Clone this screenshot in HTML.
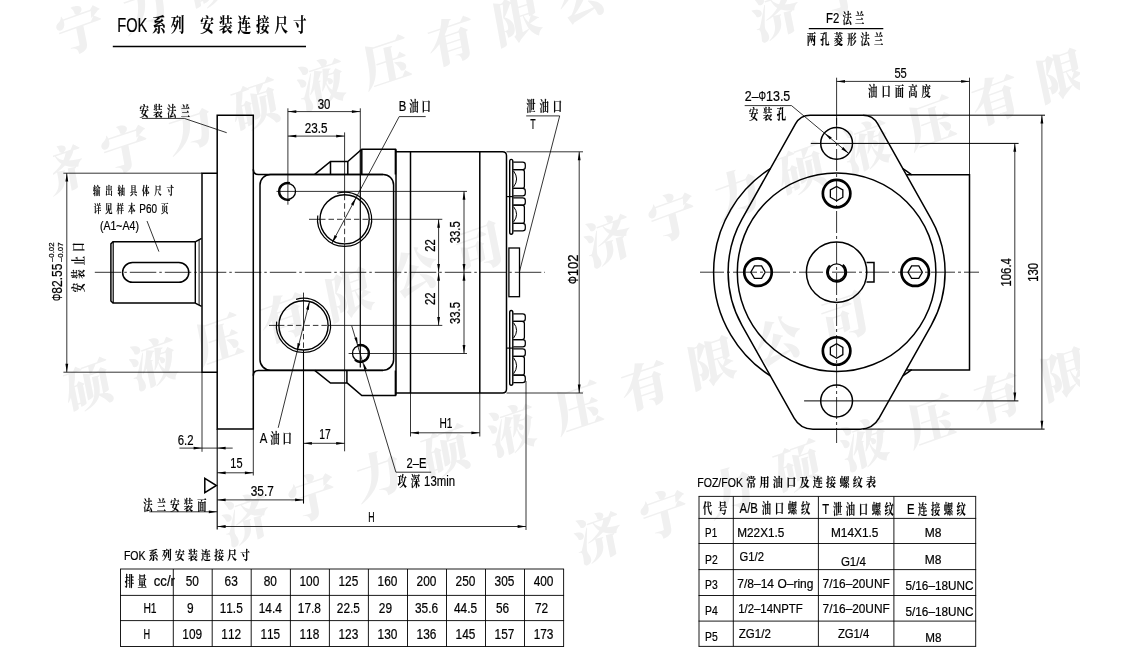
<!DOCTYPE html>
<html lang="zh"><head><meta charset="utf-8"><title>FOK系列 安装连接尺寸</title>
<style>
html,body{margin:0;padding:0;background:#fff;}
body{width:1135px;height:669px;overflow:hidden;}
svg{display:block;filter:grayscale(1);}
svg line,svg path,svg circle,svg rect{fill:none;stroke:#000;stroke-linecap:butt;}
svg .ar{fill:#000;stroke:none;}
svg text{font-family:"Liberation Sans","Noto Serif CJK SC",sans-serif;fill:#000;stroke:none;white-space:pre;}
svg text{stroke:#000;stroke-width:0.22px;}
svg text.c{font-weight:700;stroke-width:0.15px;}
svg .wm text{font-family:"Noto Serif CJK SC","Liberation Serif",serif;font-weight:900;fill:#f0f0f0;stroke:none;}
</style></head><body>
<svg width="1135" height="669" viewBox="0 0 1135 669">
<defs><clipPath id="wc"><rect x="53" y="0" width="1027" height="669"/></clipPath></defs>
<g class="wm" clip-path="url(#wc)">
<text transform="translate(60,171) rotate(-18.3) skewX(-8)" x="-24.5 44.3 113.1 181.9 250.7 319.5 388.3 457.1 525.9 594.7" y="17.64" font-size="49">济宁力硕液压有限公司</text>
<text transform="translate(608,241) rotate(-20) skewX(-8)" x="-24.5 44.3 113.1 181.9 250.7 319.5 388.3 457.1 525.9 594.7" y="17.64" font-size="49">济宁力硕液压有限公司</text>
<text transform="translate(246,520) rotate(-18.6) skewX(-8)" x="-24.5 45.7 115.9 186.1 256.3 326.5 396.7 466.9 537.1 607.3" y="17.64" font-size="49">济宁力硕液压有限公司</text>
<text transform="translate(-107,455.5) rotate(-19.4) skewX(-8)" x="-24.5 44.6 113.7 182.8 251.9 321 390.1 459.2 528.3 597.4" y="17.64" font-size="49">济宁力硕液压有限公司</text>
<text transform="translate(15,53) rotate(-19.5) skewX(-8)" x="-24.5 44.7 113.9 183.1 252.3 321.5 390.7 459.9 529.1 598.3" y="17.64" font-size="49">济宁力硕液压有限公司</text>
<text transform="translate(776,15) rotate(-19.5) skewX(-8)" x="-24.5 44.7 113.9 183.1 252.3 321.5 390.7 459.9 529.1 598.3" y="17.64" font-size="49">济宁力硕液压有限公司</text>
<text transform="translate(598,538) rotate(-19.3) skewX(-8)" x="-24.5 46.1 116.7 187.3 257.9 328.5 399.1 469.7 540.3 610.9" y="17.64" font-size="49">济宁力硕液压有限公司</text>
</g>
<text transform="translate(117.3,32) scale(0.7200,1)" x="0 12.4 28.19" font-size="20.3">FOK</text>
<text class="c" transform="translate(152.24,32) scale(0.7000,1)" x="0 26.49 52.97 68.74 95.22 121.71 148.19 174.68 201.16" font-size="19.49">系列 安装连接尺寸</text>
<line x1="112.8" y1="46.4" x2="306" y2="46.4" stroke-width="1.5"/>
<g id="side">
<path d="M195.4,241.8 L113,241.8 L110.9,243.9 L110.9,301 L113,303.1 L195.4,303.1" stroke-width="1.5"/>
<line x1="113.2" y1="241.8" x2="113.2" y2="303" stroke-width="1.2"/>
<path d="M195.2,241.8 L201.6,238.4 M195.2,303.1 L201.6,306.4" stroke-width="1.5"/>
<line x1="195.3" y1="241.8" x2="195.3" y2="303" stroke-width="1.4"/>
<line x1="199.1" y1="239.8" x2="199.1" y2="305" stroke-width="0.9"/>
<rect x="122.6" y="262.5" width="66.2" height="19.8" stroke-width="1.5" rx="9.9"/>
<path d="M217.2,173.2 L202,173.2 L202,372.2 L217.2,372.2" stroke-width="1.5"/>
<path d="M217.2,429.1 L217.2,115.2 L253.3,115.2 L253.3,429.1 Z" stroke-width="1.5"/>
<path d="M253.3,169.2 Q253.3,174.4 258.4,174.4 L383,174.4 M253.3,375.7 Q253.3,370.4 258.4,370.4 L383,370.4" stroke-width="1.5"/>
<rect x="260" y="174.4" width="133.6" height="195.8" stroke-width="1.5" rx="10.5"/>
<path d="M314.7,174.4 L330.5,161.5 L347.8,161.5 L361.8,149.2 L395.4,149.2 L395.4,174.4 M330.5,161.5 V174.4 M347.8,161.5 V174.4 M361.8,149.2 V174.4" stroke-width="1.5"/>
<path d="M314.7,370.4 L330.5,383.1 L347.3,383.1 L361.8,395.6 L395.4,395.6 L395.4,370.4 M346.9,383.1 V370.4" stroke-width="1.5"/>
<path d="M395.4,151.8 L502.5,151.8 Q506.5,151.8 506.5,155.8 L506.5,389 Q506.5,393 502.5,393 L395.4,393" stroke-width="1.5"/>
<line x1="396" y1="149.2" x2="396" y2="395.6" stroke-width="1.5"/>
<line x1="410.5" y1="151.8" x2="410.5" y2="393" stroke-width="1.5"/>
<line x1="479.8" y1="151.8" x2="479.8" y2="393" stroke-width="1.5"/>
<path d="M509.7,161.4 Q509.7,159.4 511.2,159.4 Q512.8,159.4 512.8,161.4 L512.8,232.2 Q512.8,234.2 511.2,234.2 Q509.7,234.2 509.7,232.2 Z" stroke-width="1.4"/>
<line x1="506.5" y1="196.6" x2="513.3" y2="196.6" stroke-width="1.2"/>
<path d="M513.3,162.1 L522.7,162.1 Q525.3,162.1 525.3,164.7 L525.3,166.9 Q525.3,169.5 522.7,169.5 L513.3,169.5" stroke-width="1.25"/>
<path d="M513.3,169.5 L522.2,169.5 Q524.4,169.5 524.4,171.7 L524.4,186.2 Q524.4,188.4 522.2,188.4 L513.3,188.4" stroke-width="1.25"/>
<path d="M513.3,188.4 L522.7,188.4 Q525.3,188.4 525.3,191 L525.3,193.2 Q525.3,195.8 522.7,195.8 L513.3,195.8" stroke-width="1.25"/>
<path d="M513.6,171 Q519.6,178.95 513.6,186.9" stroke-width="1"/>
<path d="M513.3,197.8 L522.7,197.8 Q525.3,197.8 525.3,200.4 L525.3,202.6 Q525.3,205.2 522.7,205.2 L513.3,205.2" stroke-width="1.25"/>
<path d="M513.3,205.2 L522.2,205.2 Q524.4,205.2 524.4,207.4 L524.4,221.2 Q524.4,223.4 522.2,223.4 L513.3,223.4" stroke-width="1.25"/>
<path d="M513.3,223.4 L522.7,223.4 Q525.3,223.4 525.3,226 L525.3,228.2 Q525.3,230.8 522.7,230.8 L513.3,230.8" stroke-width="1.25"/>
<path d="M513.6,206.7 Q519.6,214.3 513.6,221.9" stroke-width="1"/>
<path d="M509.7,312.5 Q509.7,310.5 511.2,310.5 Q512.8,310.5 512.8,312.5 L512.8,383.3 Q512.8,385.3 511.2,385.3 Q509.7,385.3 509.7,383.3 Z" stroke-width="1.4"/>
<line x1="506.5" y1="348.1" x2="513.3" y2="348.1" stroke-width="1.2"/>
<path d="M513.3,348.9 L522.7,348.9 Q525.3,348.9 525.3,351.5 L525.3,353.7 Q525.3,356.3 522.7,356.3 L513.3,356.3" stroke-width="1.25"/>
<path d="M513.3,356.3 L522.2,356.3 Q524.4,356.3 524.4,358.5 L524.4,373 Q524.4,375.2 522.2,375.2 L513.3,375.2" stroke-width="1.25"/>
<path d="M513.3,375.2 L522.7,375.2 Q525.3,375.2 525.3,377.8 L525.3,380 Q525.3,382.6 522.7,382.6 L513.3,382.6" stroke-width="1.25"/>
<path d="M513.6,357.8 Q519.6,365.75 513.6,373.7" stroke-width="1"/>
<path d="M513.3,313.9 L522.7,313.9 Q525.3,313.9 525.3,316.5 L525.3,318.7 Q525.3,321.3 522.7,321.3 L513.3,321.3" stroke-width="1.25"/>
<path d="M513.3,321.3 L522.2,321.3 Q524.4,321.3 524.4,323.5 L524.4,337.3 Q524.4,339.5 522.2,339.5 L513.3,339.5" stroke-width="1.25"/>
<path d="M513.3,339.5 L522.7,339.5 Q525.3,339.5 525.3,342.1 L525.3,344.3 Q525.3,346.9 522.7,346.9 L513.3,346.9" stroke-width="1.25"/>
<path d="M513.6,322.8 Q519.6,330.4 513.6,338" stroke-width="1"/>
<rect x="508.9" y="248" width="10.6" height="48.7" stroke-width="1.3"/>
</g>
<circle cx="287.6" cy="191.4" r="7.9" stroke-width="1.3"/>
<path d="M289.88,199.9 A8.8,8.8 0 1 1 289.88,182.9" stroke-width="1.7"/>
<circle cx="360.4" cy="353.4" r="7.9" stroke-width="1.3"/>
<path d="M357.39,345.13 A8.8,8.8 0 1 1 354.74,360.14" stroke-width="1.7"/>
<circle cx="344.6" cy="219.3" r="24.6" stroke-width="1.4"/>
<path d="M337.13,193.25 A27.1,27.1 0 1 1 317.76,215.53" stroke-width="1.2"/>
<circle cx="303.5" cy="325.4" r="24.6" stroke-width="1.4"/>
<path d="M296.03,299.35 A27.1,27.1 0 1 1 276.66,321.63" stroke-width="1.2"/>
<line x1="94.8" y1="272.3" x2="545" y2="272.3" stroke-width="0.8" stroke-dasharray="26.5 3 2.5 3"/>
<line x1="287.9" y1="108.3" x2="287.9" y2="204.7" stroke-width="0.8"/>
<line x1="360.3" y1="108.3" x2="360.3" y2="149.2" stroke-width="0.8"/>
<line x1="360.3" y1="149.2" x2="360.3" y2="367.6" stroke-width="1.2" stroke="#555"/>
<line x1="344.6" y1="132.4" x2="344.6" y2="194.7" stroke-width="0.8"/>
<line x1="344.6" y1="194.7" x2="344.6" y2="243.9" stroke-width="0.8" stroke-dasharray="5.5 3"/>
<line x1="344.6" y1="243.9" x2="344.6" y2="451.3" stroke-width="0.8"/>
<line x1="303.5" y1="292.6" x2="303.5" y2="325.4" stroke-width="0.8"/>
<line x1="303.5" y1="325.4" x2="303.5" y2="350" stroke-width="0.8" stroke-dasharray="5.5 3"/>
<line x1="303.5" y1="350" x2="303.5" y2="503.6" stroke-width="1.1"/>
<line x1="276.5" y1="191.4" x2="467" y2="191.4" stroke-width="0.8"/>
<line x1="309" y1="219.3" x2="320" y2="219.3" stroke-width="0.8"/>
<line x1="320" y1="219.3" x2="369.2" y2="219.3" stroke-width="0.8" stroke-dasharray="5.5 3"/>
<line x1="369.2" y1="219.3" x2="442.3" y2="219.3" stroke-width="0.8"/>
<line x1="269" y1="325.4" x2="278.9" y2="325.4" stroke-width="0.8"/>
<line x1="278.9" y1="325.4" x2="328.1" y2="325.4" stroke-width="0.8" stroke-dasharray="5.5 3"/>
<line x1="328.1" y1="325.4" x2="442.3" y2="325.4" stroke-width="0.8"/>
<line x1="348.6" y1="353.5" x2="467" y2="353.5" stroke-width="0.8"/>
<line x1="287.9" y1="111.6" x2="360.3" y2="111.6" stroke-width="0.8"/>
<polygon class="ar" points="287.9,111.6 296.3,110.2 296.3,113"/>
<polygon class="ar" points="360.3,111.6 351.9,113 351.9,110.2"/>
<text transform="translate(317.7,108.6) scale(0.8155,1)" x="0 7.79" font-size="14">30</text>
<line x1="287.9" y1="136.1" x2="344.6" y2="136.1" stroke-width="0.8"/>
<polygon class="ar" points="287.9,136.1 296.3,134.7 296.3,137.5"/>
<polygon class="ar" points="344.6,136.1 336.2,137.5 336.2,134.7"/>
<text transform="translate(304.8,132.6) scale(0.8368,1)" x="0 7.79 15.57 19.46" font-size="14">23.5</text>
<line x1="438.6" y1="219.3" x2="438.6" y2="272.3" stroke-width="0.8"/>
<polygon class="ar" points="438.6,219.3 440,227.7 437.2,227.7"/>
<polygon class="ar" points="438.6,272.3 437.2,263.9 440,263.9"/>
<line x1="438.6" y1="272.3" x2="438.6" y2="325.4" stroke-width="0.8"/>
<polygon class="ar" points="438.6,272.3 440,280.7 437.2,280.7"/>
<polygon class="ar" points="438.6,325.4 437.2,317 440,317"/>
<line x1="464" y1="191.4" x2="464" y2="272.3" stroke-width="0.8"/>
<polygon class="ar" points="464,191.4 465.4,199.8 462.6,199.8"/>
<polygon class="ar" points="464,272.3 462.6,263.9 465.4,263.9"/>
<line x1="464" y1="272.3" x2="464" y2="353.5" stroke-width="0.8"/>
<polygon class="ar" points="464,272.3 465.4,280.7 462.6,280.7"/>
<polygon class="ar" points="464,353.5 462.6,345.1 465.4,345.1"/>
<text transform="translate(434.6,251.7) rotate(-90) scale(0.8100,1)" x="0 7.79" font-size="14">22</text>
<text transform="translate(434.6,305) rotate(-90) scale(0.8100,1)" x="0 7.79" font-size="14">22</text>
<text transform="translate(460,243.3) rotate(-90) scale(0.8100,1)" x="0 7.79 15.57 19.46" font-size="14">33.5</text>
<text transform="translate(460,324.1) rotate(-90) scale(0.8100,1)" x="0 7.79 15.57 19.46" font-size="14">33.5</text>
<line x1="506.5" y1="151.8" x2="583" y2="151.8" stroke-width="0.8"/>
<line x1="506.5" y1="393" x2="583" y2="393" stroke-width="0.8"/>
<line x1="579.2" y1="151.8" x2="579.2" y2="393" stroke-width="0.8"/>
<polygon class="ar" points="579.2,151.8 580.6,160.2 577.8,160.2"/>
<polygon class="ar" points="579.2,393 577.8,384.6 580.6,384.6"/>
<text transform="translate(577.6,283.9) rotate(-90) scale(0.6938,1)" x="0" font-size="14">Φ</text>
<text transform="translate(577.6,283.9) rotate(-90) translate(7.75,0) scale(0.9226,1)" x="0 7.79 15.57" font-size="14">102</text>
<line x1="63.4" y1="173.2" x2="202" y2="173.2" stroke-width="0.8"/>
<line x1="63.4" y1="372.2" x2="202" y2="372.2" stroke-width="0.8"/>
<line x1="66.8" y1="173.2" x2="66.8" y2="372.2" stroke-width="0.8"/>
<polygon class="ar" points="66.8,173.2 68.2,181.6 65.4,181.6"/>
<polygon class="ar" points="66.8,372.2 65.4,363.8 68.2,363.8"/>
<text transform="translate(61.8,301.1) rotate(-90) scale(0.6510,1)" x="0" font-size="14">Φ</text>
<text transform="translate(61.8,301.1) rotate(-90) translate(7.27,0) scale(0.8657,1)" x="0 7.79 15.57 19.46 27.25" font-size="14">82.55</text>
<text transform="translate(53.7,262) rotate(-90) scale(1.1189,1)" x="0 3.89 7.79 9.73 13.62" font-size="7">–0.02</text>
<text transform="translate(63.3,262) rotate(-90) scale(1.1189,1)" x="0 3.89 7.79 9.73 13.62" font-size="7">–0.07</text>
<text class="c" transform="translate(82.6,292.3) rotate(-90) scale(0.6900,1)" x="0 19.58 39.16 58.73" font-size="13.44">安装止口</text>
<line x1="410.5" y1="393" x2="410.5" y2="436.5" stroke-width="0.8"/>
<line x1="479.8" y1="393" x2="479.8" y2="436.5" stroke-width="0.8"/>
<line x1="410.5" y1="432.8" x2="479.8" y2="432.8" stroke-width="0.8"/>
<polygon class="ar" points="410.5,432.8 418.9,431.4 418.9,434.2"/>
<polygon class="ar" points="479.8,432.8 471.4,434.2 471.4,431.4"/>
<text transform="translate(439.5,428.4) scale(0.7264,1)" x="0 10.11" font-size="14">H1</text>
<line x1="303.5" y1="443.3" x2="344.6" y2="443.3" stroke-width="0.8"/>
<polygon class="ar" points="303.5,443.3 311.9,441.9 311.9,444.7"/>
<polygon class="ar" points="344.6,443.3 336.2,444.7 336.2,441.9"/>
<text transform="translate(319.3,439.2) scale(0.7385,1)" x="0 7.79" font-size="14">17</text>
<line x1="202" y1="372.2" x2="202" y2="451.8" stroke-width="0.8"/>
<line x1="179.4" y1="448.1" x2="232.7" y2="448.1" stroke-width="0.8"/>
<polygon class="ar" points="202,448.1 193.6,449.5 193.6,446.7"/>
<polygon class="ar" points="217.2,448.1 225.6,446.7 225.6,449.5"/>
<text transform="translate(177.8,444.9) scale(0.8118,1)" x="0 7.79 11.68" font-size="14">6.2</text>
<line x1="217.2" y1="429.1" x2="217.2" y2="529.5" stroke-width="1.1"/>
<line x1="253.3" y1="429.1" x2="253.3" y2="475.5" stroke-width="0.8"/>
<line x1="217.2" y1="472.8" x2="253.3" y2="472.8" stroke-width="0.8"/>
<polygon class="ar" points="217.2,472.8 225.6,471.4 225.6,474.2"/>
<polygon class="ar" points="253.3,472.8 244.9,474.2 244.9,471.4"/>
<text transform="translate(230.3,467.9) scale(0.7834,1)" x="0 7.79" font-size="14">15</text>
<line x1="217.2" y1="499.9" x2="303.5" y2="499.9" stroke-width="0.8"/>
<polygon class="ar" points="217.2,499.9 225.6,498.5 225.6,501.3"/>
<polygon class="ar" points="303.5,499.9 295.1,501.3 295.1,498.5"/>
<text transform="translate(250.8,495.8) scale(0.8441,1)" x="0 7.79 15.57 19.46" font-size="14">35.7</text>
<line x1="526" y1="381" x2="526" y2="530" stroke-width="0.8"/>
<line x1="217.2" y1="526.5" x2="526" y2="526.5" stroke-width="0.8"/>
<polygon class="ar" points="217.2,526.5 225.6,525.1 225.6,527.9"/>
<polygon class="ar" points="526,526.5 517.6,527.9 517.6,525.1"/>
<text transform="translate(368.3,521.9) scale(0.6231,1)" x="0" font-size="14">H</text>
<path d="M204.8,478.4 L204.8,492.6 L216.4,485.5 Z" stroke-width="1.5"/>
<text class="c" transform="translate(143.2,509.6) scale(0.6900,1)" x="0 19.61 39.22 58.83 78.44" font-size="13.44">法兰安装面</text>
<line x1="149.3" y1="511.8" x2="217.2" y2="511.8" stroke-width="0.8"/>
<polygon class="ar" points="217.2,511.8 208.8,513.2 208.8,510.4"/>
<text class="c" transform="translate(139.4,115.6) scale(0.6900,1)" x="0 19.96 39.93 59.89" font-size="13.44">安装法兰</text>
<path d="M141.9,118.4 L184.3,118.4 L226.7,132.7" stroke-width="0.8"/>
<text class="c" transform="translate(92.9,195.3) scale(0.6300,1)" x="0 19.46 38.92 58.38 77.84 97.3 116.76" font-size="11.81">输出轴具体尺寸</text>
<text class="c" transform="translate(93.7,213.3) scale(0.6300,1)" x="0 18.12 36.24 54.35" font-size="11.81">详见样本</text>
<text transform="translate(139.36,213.3) scale(0.8100,1)" x="0 8.2 15.04" font-size="12.3">P60</text>
<text class="c" transform="translate(161.06,213.3) scale(0.6300,1)" x="0" font-size="11.81">页</text>
<text transform="translate(99.9,229.7) scale(0.8578,1)" x="0 4.1 12.3 19.14 26.32 34.53 41.37" font-size="12.3">(A1~A4)</text>
<line x1="147" y1="221" x2="158.9" y2="251.6" stroke-width="0.8"/>
<text transform="translate(398.8,110.9) scale(0.8100,1)" x="0" font-size="14">B</text>
<text class="c" transform="translate(409.31,110.9) scale(0.6900,1)" x="0 17.71" font-size="13.44">油口</text>
<path d="M425.7,116.6 L399.2,116.6 L331.94,243.14" stroke-width="0.8"/>
<polygon class="ar" points="356.14,197.58 353.43,205.65 350.96,204.34"/>
<polygon class="ar" points="331.94,243.14 334.64,235.07 337.11,236.38"/>
<text transform="translate(259.7,443.2) scale(0.8100,1)" x="0" font-size="14">A</text>
<text class="c" transform="translate(270.26,443.2) scale(0.6900,1)" x="0 17.78" font-size="13.44">油口</text>
<line x1="278.2" y1="427.8" x2="309.53" y2="301.56" stroke-width="0.8"/>
<polygon class="ar" points="309.53,301.56 308.83,310.05 306.11,309.36"/>
<polygon class="ar" points="296.88,351.56 297.59,343.08 300.3,343.76"/>
<text class="c" transform="translate(526.2,111.2) scale(0.6900,1)" x="0 19.29 38.59" font-size="13.44">泄油口</text>
<path d="M526.2,115.9 L559.7,115.9 L519.5,271.5" stroke-width="0.8"/>
<text transform="translate(530.2,129.4) scale(0.6314,1)" x="0" font-size="14">T</text>
<text transform="translate(406.5,467.8) scale(0.7989,1)" x="0 7.79 15.57" font-size="14">2–E</text>
<path d="M431.2,472.2 L395.9,472.2 L351.7,325.8" stroke-width="0.8"/>
<polygon class="ar" points="363.44,362.67 366.85,368.94 364.18,369.77"/>
<polygon class="ar" points="357.76,344.33 354.35,338.06 357.02,337.23"/>
<text class="c" transform="translate(397.4,485.8) scale(0.6900,1)" x="0 19.36" font-size="13.44">攻深</text>
<text transform="translate(424.11,485.8) scale(0.8100,1)" x="0 7.79 15.57 27.23 30.34" font-size="14">13min</text>
<path d="M810.2,115.2 L863,115.2 A16.9,16.9 0 0 1 877.74,123.83 L931.21,219.09 A108.5,108.5 0 0 1 931.21,325.31 L879.06,418.22 A21.51,21.51 0 0 1 860.3,429.2 L812.9,429.2 A21.51,21.51 0 0 1 794.14,418.22 L741.99,325.31 A108.5,108.5 0 0 1 741.99,219.09 L795.46,123.83 A16.9,16.9 0 0 1 810.2,115.2 Z" stroke-width="1.5"/>
<circle cx="836.6" cy="272.2" r="99.3" stroke-width="1.5"/>
<path d="M770.35,168.57 A123,123 0 0 0 770.35,375.83" stroke-width="1.5"/>
<path d="M902.85,168.57 A123,123 0 0 1 911.71,174.8" stroke-width="1.5"/>
<path d="M902.85,375.83 A123,123 0 0 0 911.71,369.6" stroke-width="1.5"/>
<path d="M906.35,174.8 L969.5,174.8 L969.5,370 L906.35,370" stroke-width="1.5"/>
<circle cx="836.6" cy="143.3" r="15.9" stroke-width="1.5"/>
<circle cx="836.6" cy="401" r="15.9" stroke-width="1.5"/>
<circle cx="836.6" cy="193.6" r="13.75" stroke-width="2.7"/>
<path d="M842.84,197.2 L836.6,200.8 L830.36,197.2 L830.36,190 L836.6,186.4 L842.84,190 Z" stroke-width="1.3"/>
<circle cx="836.6" cy="351" r="13.75" stroke-width="2.7"/>
<path d="M842.84,354.6 L836.6,358.2 L830.36,354.6 L830.36,347.4 L836.6,343.8 L842.84,347.4 Z" stroke-width="1.3"/>
<circle cx="758" cy="272.2" r="13.75" stroke-width="2.7"/>
<path d="M765.2,272.2 L761.6,278.44 L754.4,278.44 L750.8,272.2 L754.4,265.96 L761.6,265.96 Z" stroke-width="1.3"/>
<circle cx="915.2" cy="272.2" r="13.75" stroke-width="2.7"/>
<path d="M922.4,272.2 L918.8,278.44 L911.6,278.44 L908,272.2 L911.6,265.96 L918.8,265.96 Z" stroke-width="1.3"/>
<circle cx="836.6" cy="272.2" r="30.2" stroke-width="1.5"/>
<circle cx="836.6" cy="272.2" r="8.3" stroke-width="1.3"/>
<path d="M842.77,264.85 A9.6,9.6 0 1 1 829.81,265.41" stroke-width="1.9"/>
<path d="M866.5,262.5 L874,262.5 L874,282.1 L866.5,282.1" stroke-width="1.5"/>
<line x1="836.6" y1="77.7" x2="836.6" y2="125" stroke-width="0.8"/>
<line x1="836.6" y1="118" x2="836.6" y2="443" stroke-width="0.8" stroke-dasharray="22 3 3 3"/>
<line x1="700" y1="272.2" x2="979" y2="272.2" stroke-width="0.8" stroke-dasharray="24 3 3 3"/>
<line x1="969.5" y1="77.7" x2="969.5" y2="174.8" stroke-width="0.8"/>
<line x1="836.6" y1="81.4" x2="969.5" y2="81.4" stroke-width="0.8"/>
<polygon class="ar" points="836.6,81.4 845,80 845,82.8"/>
<polygon class="ar" points="969.5,81.4 961.1,82.8 961.1,80"/>
<text transform="translate(894.4,77.7) scale(0.7963,1)" x="0 7.79" font-size="14">55</text>
<text class="c" transform="translate(868,95.6) scale(0.6900,1)" x="0 19.43 38.86 58.29 77.72" font-size="13.44">油口面高度</text>
<line x1="810.8" y1="143.4" x2="1018.6" y2="143.4" stroke-width="1" stroke="#666"/>
<line x1="804.1" y1="400.9" x2="1018.4" y2="400.9" stroke-width="1" stroke="#666"/>
<line x1="863" y1="115.2" x2="1045" y2="115.2" stroke-width="1" stroke="#555"/>
<line x1="863" y1="429.1" x2="1044.6" y2="429.1" stroke-width="1" stroke="#555"/>
<line x1="1014.8" y1="143.4" x2="1014.8" y2="400.9" stroke-width="0.8"/>
<polygon class="ar" points="1014.8,143.4 1016.2,151.8 1013.4,151.8"/>
<polygon class="ar" points="1014.8,400.9 1013.4,392.5 1016.2,392.5"/>
<line x1="1041.9" y1="115.2" x2="1041.9" y2="429.1" stroke-width="0.8"/>
<polygon class="ar" points="1041.9,115.2 1043.3,123.6 1040.5,123.6"/>
<polygon class="ar" points="1041.9,429.1 1040.5,420.7 1043.3,420.7"/>
<text transform="translate(1010.8,286.5) rotate(-90) scale(0.8100,1)" x="0 7.79 15.57 23.36 27.25" font-size="14">106.4</text>
<text transform="translate(1038,281.8) rotate(-90) scale(0.8100,1)" x="0 7.79 15.57" font-size="14">130</text>
<text transform="translate(744.7,101.1) scale(0.8903,1)" x="0 7.79" font-size="14">2–</text>
<text transform="translate(758.56,101.1) scale(0.6695,1)" x="0" font-size="14">Φ</text>
<text transform="translate(766.04,101.1) scale(0.8903,1)" x="0 7.79 15.57 19.46" font-size="14">13.5</text>
<text class="c" transform="translate(749.1,119.4) scale(0.6900,1)" x="0 20.09 40.18" font-size="13.44">安装孔</text>
<path d="M744.7,105.6 L791.5,105.6 L848.8,153.49" stroke-width="0.8"/>
<polygon class="ar" points="848.8,153.49 841.45,149.18 843.25,147.03"/>
<polygon class="ar" points="824.4,133.11 831.75,137.42 829.95,139.57"/>
<text transform="translate(826,22.7) scale(0.8100,1)" x="0 8.55" font-size="14">F2</text>
<text class="c" transform="translate(842.49,22.7) scale(0.6900,1)" x="0 18.16" font-size="13.44">法兰</text>
<line x1="808.8" y1="28.6" x2="883.3" y2="28.6" stroke-width="1.4"/>
<text class="c" transform="translate(806.8,43.8) scale(0.6900,1)" x="0 19.49 38.97 58.46 77.94 97.43" font-size="13.44">两孔菱形法兰</text>
<text transform="translate(123.9,559.8) scale(0.8100,1)" x="0 7.94 18.05" font-size="13">FOK</text>
<text class="c" transform="translate(148.87,559.8) scale(0.7800,1)" x="0 16.74 33.48 50.22 66.96 83.7 100.44 117.18" font-size="12.48">系列安装连接尺寸</text>
<line x1="120.5" y1="569" x2="120.5" y2="646.5" stroke-width="0.9"/>
<line x1="173.3" y1="569" x2="173.3" y2="646.5" stroke-width="0.9"/>
<line x1="212.2" y1="569" x2="212.2" y2="646.5" stroke-width="0.9"/>
<line x1="251.2" y1="569" x2="251.2" y2="646.5" stroke-width="0.9"/>
<line x1="290.4" y1="569" x2="290.4" y2="646.5" stroke-width="0.9"/>
<line x1="329.4" y1="569" x2="329.4" y2="646.5" stroke-width="0.9"/>
<line x1="368.4" y1="569" x2="368.4" y2="646.5" stroke-width="0.9"/>
<line x1="407.5" y1="569" x2="407.5" y2="646.5" stroke-width="0.9"/>
<line x1="446.5" y1="569" x2="446.5" y2="646.5" stroke-width="0.9"/>
<line x1="485.5" y1="569" x2="485.5" y2="646.5" stroke-width="0.9"/>
<line x1="524.5" y1="569" x2="524.5" y2="646.5" stroke-width="0.9"/>
<line x1="563.6" y1="569" x2="563.6" y2="646.5" stroke-width="0.9"/>
<line x1="120.05" y1="569" x2="564.05" y2="569" stroke-width="0.9"/>
<line x1="120.05" y1="595.4" x2="564.05" y2="595.4" stroke-width="0.9"/>
<line x1="120.05" y1="620.6" x2="564.05" y2="620.6" stroke-width="0.9"/>
<line x1="120.05" y1="646.5" x2="564.05" y2="646.5" stroke-width="0.9"/>
<text class="c" transform="translate(124.7,586.1) scale(0.6900,1)" x="0 18.73" font-size="13.44">排量</text>
<text transform="translate(153.8,586.3) scale(0.9401,1)" x="0 7 14 17.89" font-size="14">cc/r</text>
<text transform="translate(143.4,612.7) scale(0.7376,1)" x="0 10.11" font-size="14">H1</text>
<text transform="translate(143.6,639.1) scale(0.6528,1)" x="0" font-size="14">H</text>
<text transform="translate(185.64,586.3) scale(0.8486,1)" x="0 7.79" font-size="14">50</text>
<text transform="translate(224.59,586.3) scale(0.8486,1)" x="0 7.79" font-size="14">63</text>
<text transform="translate(263.69,586.3) scale(0.8486,1)" x="0 7.79" font-size="14">80</text>
<text transform="translate(299.49,586.3) scale(0.8486,1)" x="0 7.79 15.57" font-size="14">100</text>
<text transform="translate(338.49,586.3) scale(0.8486,1)" x="0 7.79 15.57" font-size="14">125</text>
<text transform="translate(377.54,586.3) scale(0.8486,1)" x="0 7.79 15.57" font-size="14">160</text>
<text transform="translate(416.59,586.3) scale(0.8486,1)" x="0 7.79 15.57" font-size="14">200</text>
<text transform="translate(455.59,586.3) scale(0.8486,1)" x="0 7.79 15.57" font-size="14">250</text>
<text transform="translate(494.59,586.3) scale(0.8486,1)" x="0 7.79 15.57" font-size="14">305</text>
<text transform="translate(533.64,586.3) scale(0.8486,1)" x="0 7.79 15.57" font-size="14">400</text>
<text transform="translate(186.95,612.7) scale(0.8486,1)" x="0" font-size="14">9</text>
<text transform="translate(219.64,612.7) scale(0.8486,1)" x="0 7.79 15.57 19.46" font-size="14">11.5</text>
<text transform="translate(258.74,612.7) scale(0.8486,1)" x="0 7.79 15.57 19.46" font-size="14">14.4</text>
<text transform="translate(297.84,612.7) scale(0.8486,1)" x="0 7.79 15.57 19.46" font-size="14">17.8</text>
<text transform="translate(336.84,612.7) scale(0.8486,1)" x="0 7.79 15.57 19.46" font-size="14">22.5</text>
<text transform="translate(378.84,612.7) scale(0.8486,1)" x="0 7.79" font-size="14">29</text>
<text transform="translate(414.94,612.7) scale(0.8486,1)" x="0 7.79 15.57 19.46" font-size="14">35.6</text>
<text transform="translate(453.94,612.7) scale(0.8486,1)" x="0 7.79 15.57 19.46" font-size="14">44.5</text>
<text transform="translate(495.89,612.7) scale(0.8486,1)" x="0 7.79" font-size="14">56</text>
<text transform="translate(534.94,612.7) scale(0.8486,1)" x="0 7.79" font-size="14">72</text>
<text transform="translate(182.34,639.1) scale(0.8486,1)" x="0 7.79 15.57" font-size="14">109</text>
<text transform="translate(221.29,639.1) scale(0.8486,1)" x="0 7.79 15.57" font-size="14">112</text>
<text transform="translate(260.39,639.1) scale(0.8486,1)" x="0 7.79 15.57" font-size="14">115</text>
<text transform="translate(299.49,639.1) scale(0.8486,1)" x="0 7.79 15.57" font-size="14">118</text>
<text transform="translate(338.49,639.1) scale(0.8486,1)" x="0 7.79 15.57" font-size="14">123</text>
<text transform="translate(377.54,639.1) scale(0.8486,1)" x="0 7.79 15.57" font-size="14">130</text>
<text transform="translate(416.59,639.1) scale(0.8486,1)" x="0 7.79 15.57" font-size="14">136</text>
<text transform="translate(455.59,639.1) scale(0.8486,1)" x="0 7.79 15.57" font-size="14">145</text>
<text transform="translate(494.59,639.1) scale(0.8486,1)" x="0 7.79 15.57" font-size="14">157</text>
<text transform="translate(533.64,639.1) scale(0.8486,1)" x="0 7.79 15.57" font-size="14">173</text>
<text transform="translate(697.3,486.5) scale(0.8100,1)" x="0 7.94 18.05 25.99 29.61 37.55 47.66" font-size="13">FOZ/FOK</text>
<text class="c" transform="translate(746.25,486.5) scale(0.8000,1)" x="0 16.63 33.27 49.9 66.54 83.17 99.81 116.44 133.07 149.71" font-size="12.48">常用油口及连接螺纹表</text>
<line x1="699" y1="496.4" x2="699" y2="646.4" stroke-width="0.9"/>
<line x1="733.3" y1="496.4" x2="733.3" y2="646.4" stroke-width="0.9"/>
<line x1="818.4" y1="496.4" x2="818.4" y2="646.4" stroke-width="0.9"/>
<line x1="893.9" y1="496.4" x2="893.9" y2="646.4" stroke-width="0.9"/>
<line x1="975.7" y1="496.4" x2="975.7" y2="646.4" stroke-width="0.9"/>
<line x1="698.55" y1="496.4" x2="976.15" y2="496.4" stroke-width="0.9"/>
<line x1="698.55" y1="518.4" x2="976.15" y2="518.4" stroke-width="0.9"/>
<line x1="698.55" y1="543.5" x2="976.15" y2="543.5" stroke-width="0.9"/>
<line x1="698.55" y1="569.6" x2="976.15" y2="569.6" stroke-width="0.9"/>
<line x1="698.55" y1="595.5" x2="976.15" y2="595.5" stroke-width="0.9"/>
<line x1="698.55" y1="621.1" x2="976.15" y2="621.1" stroke-width="0.9"/>
<line x1="698.55" y1="646.4" x2="976.15" y2="646.4" stroke-width="0.9"/>
<text class="c" transform="translate(702.8,513.2) scale(0.6900,1)" x="0 21.92" font-size="13.44">代号</text>
<text transform="translate(739.6,513.4) scale(0.8100,1)" x="0 9.34 13.23" font-size="14">A/B</text>
<text class="c" transform="translate(761.68,513.4) scale(0.6900,1)" x="0 18.96 37.91 56.87" font-size="13.44">油口螺纹</text>
<text transform="translate(822.3,514.2) scale(0.8100,1)" x="0" font-size="14">T</text>
<text class="c" transform="translate(832.89,514.2) scale(0.6900,1)" x="0 18.75 37.49 56.24 74.98" font-size="13.44">泄油口螺纹</text>
<text transform="translate(907,513.8) scale(0.8100,1)" x="0" font-size="14">E</text>
<text class="c" transform="translate(918.12,513.8) scale(0.6900,1)" x="0 18.6 37.2 55.8" font-size="13.44">连接螺纹</text>
<text transform="translate(705.1,536.5) scale(0.7432,1)" x="0 8.8" font-size="13.2">P1</text>
<text transform="translate(737.3,536.5) scale(0.8896,1)" x="0 11 18.34 25.68 34.48 41.82 45.49" font-size="13.2">M22X1.5</text>
<text transform="translate(830.9,536.5) scale(0.8991,1)" x="0 11 18.34 25.68 34.48 41.82 45.49" font-size="13.2">M14X1.5</text>
<text transform="translate(924.8,536.5) scale(0.9107,1)" x="0 11" font-size="13.2">M8</text>
<text transform="translate(705.1,564) scale(0.7866,1)" x="0 8.8" font-size="13.2">P2</text>
<text transform="translate(739.6,561.3) scale(0.8526,1)" x="0 10.27 17.61 21.28" font-size="13.2">G1/2</text>
<text transform="translate(840.9,565.6) scale(0.8736,1)" x="0 10.27 17.61 21.28" font-size="13.2">G1/4</text>
<text transform="translate(924.8,564.1) scale(0.9107,1)" x="0 11" font-size="13.2">M8</text>
<text transform="translate(705.1,589.4) scale(0.7866,1)" x="0 8.8" font-size="13.2">P3</text>
<text transform="translate(737.3,587.6) scale(0.9108,1)" x="0 7.34 11.01 18.35 25.69 33.03 40.37 44.04 54.31 61.65 66.05 68.98 76.32" font-size="13.2">7/8–14 O–ring</text>
<text transform="translate(822.6,587.6) scale(0.8965,1)" x="0 7.34 11.01 18.35 25.69 33.03 40.37 47.71 57.25 66.78" font-size="13.2">7/16–20UNF</text>
<text transform="translate(905.5,590) scale(0.8911,1)" x="0 7.34 11.01 18.35 25.69 33.03 40.37 47.71 57.25 66.78" font-size="13.2">5/16–18UNC</text>
<text transform="translate(705.1,615.3) scale(0.7866,1)" x="0 8.8" font-size="13.2">P4</text>
<text transform="translate(738.2,612.9) scale(0.8632,1)" x="0 7.34 11.01 18.35 25.69 33.03 40.37 49.91 58.71 66.77" font-size="13.2">1/2–14NPTF</text>
<text transform="translate(822.6,613.4) scale(0.8965,1)" x="0 7.34 11.01 18.35 25.69 33.03 40.37 47.71 57.25 66.78" font-size="13.2">7/16–20UNF</text>
<text transform="translate(905.5,615.9) scale(0.8911,1)" x="0 7.34 11.01 18.35 25.69 33.03 40.37 47.71 57.25 66.78" font-size="13.2">5/16–18UNC</text>
<text transform="translate(705.1,641.2) scale(0.7866,1)" x="0 8.8" font-size="13.2">P5</text>
<text transform="translate(738.8,638.2) scale(0.8724,1)" x="0 8.06 18.33 25.67 29.34" font-size="13.2">ZG1/2</text>
<text transform="translate(837.9,638.2) scale(0.8560,1)" x="0 8.06 18.33 25.67 29.34" font-size="13.2">ZG1/4</text>
<text transform="translate(925.3,641.8) scale(0.8835,1)" x="0 11" font-size="13.2">M8</text>
</svg>
</body></html>
